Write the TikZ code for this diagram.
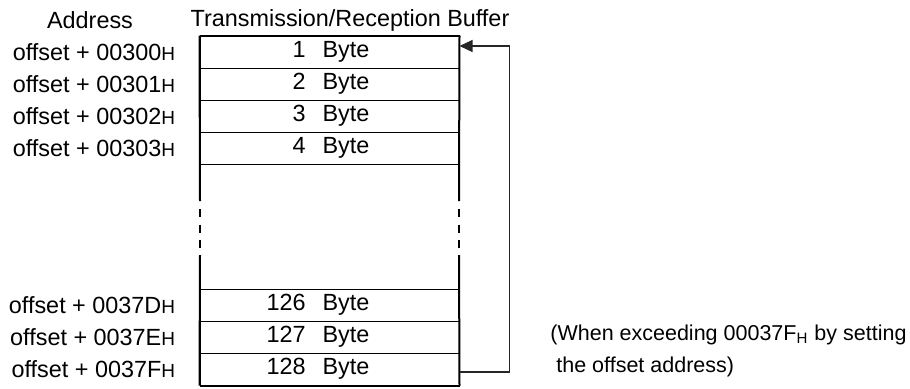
\documentclass[tikz,border=0pt]{standalone}
\usepackage{fontspec}
\setmainfont{Liberation Sans}
\usetikzlibrary{arrows.meta,positioning}
\newcommand{\hx}{{\fontsize{9.5}{9}\selectfont H}}
\newcommand{\byterow}[1]{\makebox[19.5pt][r]{#1}\hspace{8.5pt}Byte\kern11.5pt}
\begin{document}
\begin{tikzpicture}[x=0.5pt,y=-0.5pt,
  font=\fontsize{11.7}{14}\selectfont,
  cell/.style={draw,line width=0.5pt,minimum width=129.5pt,minimum height=16pt,inner sep=0pt},
  addr/.style={inner sep=0pt},
  frame/.style={line width=1pt},
  back/.style={line width=0.6pt,black!85,-{Triangle[length=6.5pt,width=6pt]}}
]
  \useasboundingbox (0,0) rectangle (910,388);
  % headings
  \node (haddr) at (90,20) {Address};
  \node (hbuf) at (350,20) {Transmission/Reception Buffer};
  % buffer cells
  \node[cell] (b1) at (329.5,52) {\byterow{1}};
  \node[cell] (b2) at (329.5,84) {\byterow{2}};
  \node[cell] (b3) at (329.5,116) {\byterow{3}};
  \node[cell] (b4) at (329.5,148) {\byterow{4}};
  \node[cell] (b126) at (329.5,305) {\byterow{126}};
  \node[cell] (b127) at (329.5,337) {\byterow{127}};
  \node[cell] (b128) at (329.5,369) {\byterow{128}};
  % addresses
  \node[addr,left=12pt of b1] (a1) {offset + 00300\hx};
  \node[addr,left=12pt of b2] (a2) {offset + 00301\hx};
  \node[addr,left=12pt of b3] (a3) {offset + 00302\hx};
  \node[addr,left=12pt of b4] (a4) {offset + 00303\hx};
  \node[addr,left=12pt of b126] (a126) {offset + 0037D\hx};
  \node[addr,left=12pt of b127] (a127) {offset + 0037E\hx};
  \node[addr,left=12pt of b128] (a128) {offset + 0037F\hx};
  % outer frame with broken sides
  \draw[frame] (b1.north west) -- (b1.north east);
  \draw[frame] (b128.south west) -- (b128.south east);
  \draw[frame] (b1.north west) -- (200,201);
  \draw[frame] (200,255) -- (b128.south west);
  \draw[frame] (b1.north east) -- (459,201);
  \draw[frame] (459,255) -- (b128.south east);
  \draw[frame,dash pattern=on 4pt off 3.75pt] (200,209) -- (200,248);
  \draw[frame,dash pattern=on 4pt off 3.75pt] (459,209) -- (459,248);
  % wrap-around arrow
  \draw[back] ([yshift=-1.5pt]b128.east) -- ++(25pt,0) |- ([yshift=3pt]b1.east);
  % note
  \node[anchor=west,align=left,inner sep=0pt,font=\fontsize{10.75}{14}\selectfont] (note) at (550,351)
    {(When exceeding 00037F\textsubscript{H} by setting\\[2pt]\hspace{3pt}the offset address)};
\end{tikzpicture}
\end{document}
